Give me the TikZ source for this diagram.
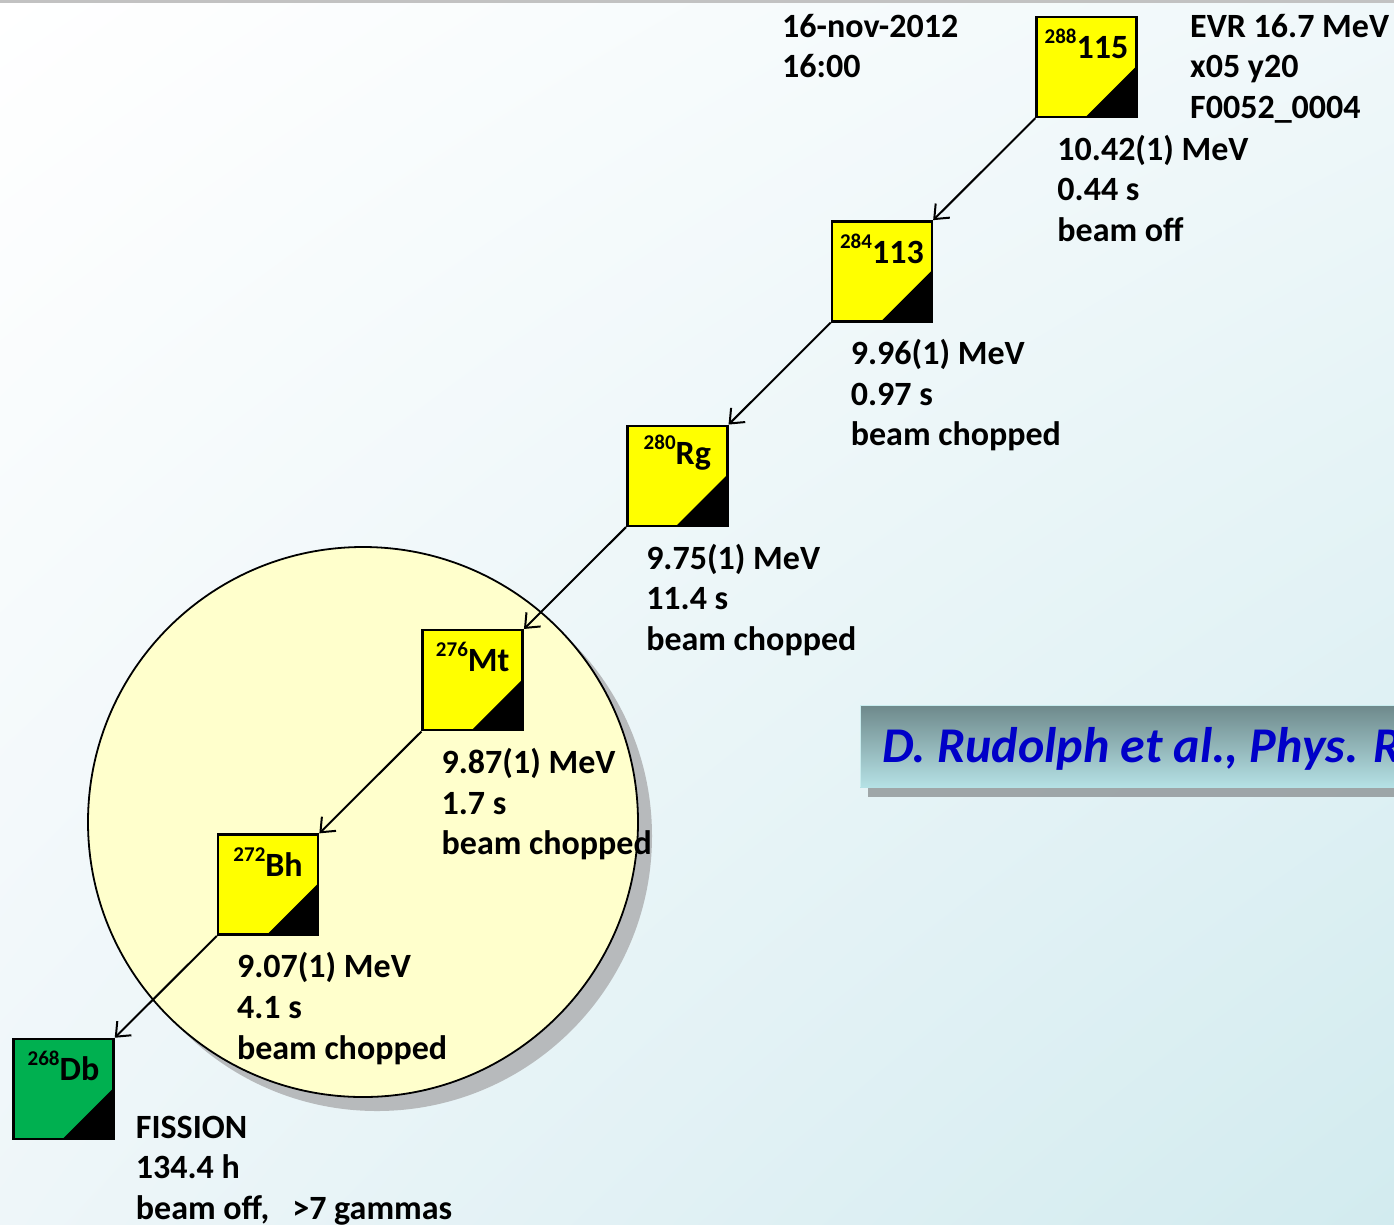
\documentclass[tikz,border=0pt]{standalone}
\usepackage{fontspec}
\setmainfont{Carlito}
\usetikzlibrary{arrows.meta,calc,shadings}
\definecolor{bgTL}{HTML}{FFFFFF}
\definecolor{bgTR}{HTML}{F0F8FA}
\definecolor{bgBL}{HTML}{EEF6F9}
\definecolor{bgBR}{HTML}{D2EBEF}
\definecolor{topline}{HTML}{C2C2C2}
\definecolor{circfill}{HTML}{FFFFCC}
\definecolor{circshadow}{HTML}{B7BABC}
\definecolor{nucyellow}{HTML}{FFFF00}
\definecolor{nucgreen}{HTML}{00B050}
\definecolor{bannerTop}{HTML}{6E898B}
\definecolor{bannerBot}{HTML}{B5E1E5}
\definecolor{bannerShadow}{HTML}{8E9395}
\definecolor{bannerEdge}{HTML}{C9EDEF}
\definecolor{refblue}{HTML}{0000C8}
\begin{document}
\begin{tikzpicture}[x=1pt,y=-1pt,
  nuc/.style={draw=black, line width=2.5pt, minimum size=100pt, inner sep=0pt,
    path picture={\fill[black] (path picture bounding box.south east) -- ++(-51pt,0pt) -- ++(51pt,51pt) -- cycle;}},
  isot/.style={inner sep=0pt, font=\fontsize{34}{34}\selectfont\bfseries},
  info/.style={inner sep=0pt, anchor=base west, align=left, font=\fontsize{34}{40.6}\selectfont\bfseries},
  conn/.style={line width=2pt, -{Straight Barb[length=12pt,width=20pt,line width=2pt]}}
]
\newcommand{\iso}[2]{\raisebox{15pt}{\fontsize{21}{21}\selectfont #1}#2}
\useasboundingbox (0,0) rectangle (1394,1224);
% background
\shade[upper left=bgTL, upper right=bgTR, lower left=bgBL, lower right=bgBR] (0,0) rectangle (1394,1224);
\fill[topline] (0,0) rectangle (1394,3);
% circle with shadow
\fill[circshadow] (377,836) circle (275);
\draw[line width=1.8pt, fill=circfill] (363,822) circle (275);
% banner
\begin{scope}
\clip (0,0) rectangle (1394,1224);
\fill[bannerShadow, opacity=0.8] (868,713) rectangle (1420,797);
\shade[top color=bannerTop, bottom color=bannerBot] (860,705) rectangle (1420,787);
\draw[bannerEdge, line width=1pt] (860,787) -- (860,705) -- (1420,705);
\node[inner sep=0pt, anchor=base west, text=refblue, font=\fontsize{50}{50}\selectfont\bfseries\itshape] (ref) at (882,762) {D. Rudolph et al., Phys. R};
\end{scope}
% nuclei
\node[nuc, fill=nucyellow] (n115) at (1086.5,67) {};
\node[nuc, fill=nucyellow] (n113) at (881.9,271.4) {};
\node[nuc, fill=nucyellow] (nRg) at (677.3,475.8) {};
\node[nuc, fill=nucyellow] (nMt) at (472.7,680.2) {};
\node[nuc, fill=nucyellow] (nBh) at (268.1,884.6) {};
\node[nuc, fill=nucgreen] (nDb) at (63.5,1089) {};
\node[isot] (t115) at ($(n115)+(0,-23)$) {\iso{288}{115}};
\node[isot] (t113) at ($(n113)+(0,-23)$) {\iso{284}{113}};
\node[isot] (tRg) at ($(nRg)+(0,-23)$) {\iso{280}{Rg}};
\node[isot] (tMt) at ($(nMt)+(0,-23)$) {\iso{276}{Mt}};
\node[isot] (tBh) at ($(nBh)+(0,-23)$) {\iso{272}{Bh}};
\node[isot] (tDb) at ($(nDb)+(0,-23)$) {\iso{268}{Db}};
% connectors
\draw[conn] (n115.south west) -- (n113.north east);
\draw[conn] (n113.south west) -- (nRg.north east);
\draw[conn] (nRg.south west) -- (nMt.north east);
\draw[conn] (nMt.south west) -- (nBh.north east);
\draw[conn] (nBh.south west) -- (nDb.north east);
% texts (anchor = baseline of the last line)
\node[info] (date) at (782,77.6) {16-nov-2012\\16:00};
\node[info] (evr) at (1190,118.2) {EVR 16.7 MeV\\x05 y20\\F0052\_0004};
\node[info] (d1) at ($(n115.south west)+(22,123.2)$) {10.42(1) MeV\\0.44 s\\beam off};
\node[info] (d2) at ($(n113.south west)+(20,123.2)$) {9.96(1) MeV\\0.97 s\\beam chopped};
\node[info] (d3) at ($(nRg.south west)+(20,123.2)$) {9.75(1) MeV\\11.4 s\\beam chopped};
\node[info] (d4) at ($(nMt.south west)+(20,123.2)$) {9.87(1) MeV\\1.7 s\\beam chopped};
\node[info] (d5) at ($(nBh.south west)+(20,123.2)$) {9.07(1) MeV\\4.1 s\\beam chopped};
\node[info] (d6) at ($(nDb.south east)+(21,79.2)$) {FISSION\\134.4 h\\beam off,\ \ \ {>}7 gammas};
\end{tikzpicture}
\end{document}
